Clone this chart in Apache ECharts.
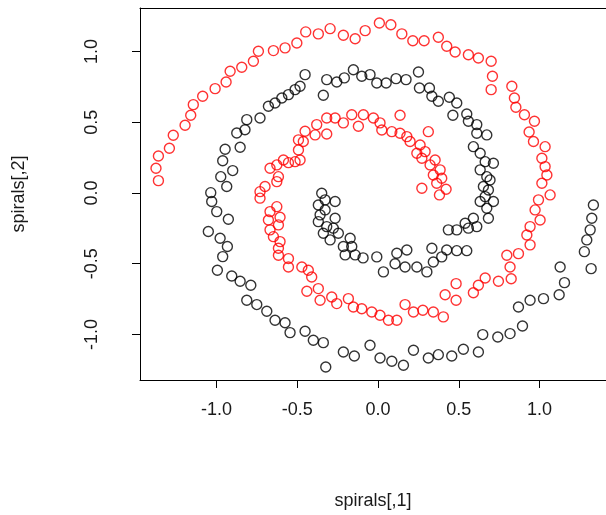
<!DOCTYPE html>
<html>
<head>
<meta charset="utf-8">
<script src="https://cdn.jsdelivr.net/npm/echarts@6/dist/echarts.min.js"></script>
<style>
  html, body { margin: 0; padding: 0; background: #fff; }
  #chart { width: 606px; height: 515px; }
</style>
</head>
<body>
<div id="chart"></div>
<script>
// values
const blackX = [
  -0.452, -0.483, -0.514, -0.555, -0.596, -0.638, -0.679, -0.731, -0.824, -0.875,
  -0.813, -0.854, -0.947, -0.962, -0.900, -0.974, -0.937, -1.036, -1.030, -0.999,
  -0.927, -1.051, -0.978, -0.933, -0.962, -0.995, -0.906, -0.854, -0.788, -0.813,
  -0.751, -0.689, -0.638, -0.576, -0.545, -0.452, -0.401, -0.339, -0.324, -0.215,
  -0.147, -0.050, 0.012, 0.085, 0.157, 0.219, 0.311, 0.373, 0.456, 0.528,
  0.621, 0.648, 0.741, 0.817, 0.894, 0.869, 0.941, 1.024, 1.121, 1.154,
  1.127, 1.319, 1.277, 1.292, 1.313, 1.323, 1.333, -0.318, -0.339, -0.256,
  -0.209, -0.153, -0.101, -0.050, -0.008, 0.050, 0.111, 0.173, 0.250, 0.256,
  0.318, 0.333, 0.373, 0.441, 0.487, 0.463, 0.549, 0.559, 0.611, 0.611,
  0.673, 0.590, 0.632, 0.663, 0.714, 0.632, 0.673, 0.693, 0.652, 0.683,
  0.663, 0.714, 0.632, 0.673, 0.683, 0.590, 0.539, 0.611, 0.559, 0.487,
  0.435, 0.549, 0.487, 0.425, 0.333, 0.394, 0.342, 0.302, 0.240, 0.167,
  0.105, 0.033, 0.178, 0.116, -0.008, -0.093, -0.142, -0.204, -0.349, -0.328,
  -0.266, -0.370, -0.328, -0.359, -0.266, -0.370, -0.318, -0.277, -0.339, -0.246,
  -0.297, -0.173, -0.215, -0.163
]
const blackY = [
  0.836, 0.754, 0.730, 0.695, 0.671, 0.636, 0.613, 0.530, 0.447, 0.424,
  0.518, 0.323, 0.309, 0.228, 0.158, 0.115, 0.045, 0.002, -0.061, -0.132,
  -0.186, -0.273, -0.320, -0.379, -0.450, -0.546, -0.587, -0.624, -0.652, -0.758,
  -0.789, -0.836, -0.900, -0.917, -0.987, -0.977, -1.041, -1.058, -1.230, -1.124,
  -1.152, -1.076, -1.166, -1.189, -1.218, -1.112, -1.166, -1.143, -1.152, -1.105,
  -1.124, -1.001, -1.018, -0.994, -0.940, -0.806, -0.758, -0.747, -0.719, -0.634,
  -0.523, -0.535, -0.415, -0.332, -0.261, -0.179, -0.085, 0.801, 0.690, 0.784,
  0.813, 0.871, 0.825, 0.836, 0.777, 0.777, 0.808, 0.801, 0.855, 0.742,
  0.742, 0.683, 0.648, 0.676, 0.636, 0.549, 0.558, 0.507, 0.483, 0.422,
  0.410, 0.327, 0.281, 0.221, 0.210, 0.163, 0.115, 0.092, 0.045, 0.021,
  -0.026, -0.061, -0.061, -0.108, -0.179, -0.179, -0.214, -0.238, -0.249, -0.261,
  -0.261, -0.408, -0.408, -0.403, -0.391, -0.452, -0.488, -0.558, -0.523, -0.523,
  -0.500, -0.558, -0.403, -0.426, -0.452, -0.459, -0.438, -0.438, -0.002, -0.049,
  -0.061, -0.085, -0.120, -0.155, -0.179, -0.203, -0.238, -0.249, -0.285, -0.285,
  -0.332, -0.320, -0.379, -0.379
]
const redX = [
  -1.360, -1.375, -1.360, -1.292, -1.268, -1.195, -1.160, -1.144, -1.086, -1.009,
  -0.941, -0.916, -0.844, -0.772, -0.741, -0.648, -0.576, -0.503, -0.448, -0.370,
  -0.297, -0.215, -0.142, -0.080, 0.008, 0.079, 0.147, 0.215, 0.285, 0.373,
  0.425, 0.477, 0.559, 0.621, 0.700, 0.708, 0.700, 0.828, 0.844, 0.853,
  0.906, 0.968, 0.935, 0.962, 1.034, 1.014, 1.034, 1.045, 1.014, 1.065,
  0.993, 0.972, 1.003, 0.941, 0.921, 0.941, 0.869, 0.797, 0.817, 0.824,
  0.745, 0.663, 0.621, 0.590, 0.483, 0.415, 0.483, 0.404, 0.342, 0.277,
  0.219, 0.167, 0.116, 0.064, 0.012, -0.039, -0.101, -0.153, -0.184, -0.256,
  -0.287, -0.359, -0.370, -0.441, -0.411, -0.432, -0.472, -0.555, -0.555, -0.617,
  -0.617, -0.607, -0.648, -0.669, -0.617, -0.607, -0.679, -0.669, -0.627, -0.731,
  -0.731, -0.700, -0.627, -0.617, -0.669, -0.627, -0.586, -0.555, -0.514, -0.483,
  -0.493, -0.493, -0.463, -0.452, -0.390, -0.380, -0.318, -0.318, -0.266, -0.215,
  -0.163, -0.122, -0.091, -0.029, 0.012, 0.136, 0.023, 0.085, 0.136, 0.178,
  0.198, 0.311, 0.260, 0.240, 0.291, 0.271, 0.353, 0.322, 0.384, 0.342,
  0.394, 0.363, 0.421, 0.380, 0.271
]
const redY = [
  0.087, 0.175, 0.261, 0.316, 0.408, 0.478, 0.549, 0.624, 0.683, 0.737,
  0.784, 0.860, 0.888, 0.931, 1.001, 1.006, 1.025, 1.060, 1.138, 1.124,
  1.161, 1.114, 1.090, 1.147, 1.201, 1.189, 1.124, 1.076, 1.076, 1.100,
  1.037, 0.996, 0.977, 0.954, 0.931, 0.825, 0.730, 0.754, 0.671, 0.606,
  0.553, 0.507, 0.431, 0.363, 0.327, 0.245, 0.186, 0.127, 0.069, -0.014,
  -0.049, -0.120, -0.191, -0.238, -0.297, -0.367, -0.429, -0.440, -0.523, -0.606,
  -0.624, -0.601, -0.652, -0.705, -0.641, -0.719, -0.758, -0.876, -0.841, -0.829,
  -0.841, -0.789, -0.900, -0.900, -0.864, -0.841, -0.818, -0.806, -0.747, -0.782,
  -0.735, -0.758, -0.676, -0.695, -0.594, -0.546, -0.523, -0.523, -0.464, -0.440,
  -0.391, -0.344, -0.309, -0.261, -0.226, -0.172, -0.191, -0.132, -0.097, -0.037,
  0.009, 0.045, 0.080, 0.115, 0.175, 0.198, 0.233, 0.214, 0.221, 0.233,
  0.304, 0.375, 0.363, 0.436, 0.410, 0.483, 0.417, 0.530, 0.530, 0.495,
  0.553, 0.471, 0.553, 0.530, 0.495, 0.549, 0.445, 0.433, 0.422, 0.398,
  0.363, 0.433, 0.339, 0.281, 0.292, 0.245, 0.233, 0.198, 0.163, 0.127,
  0.104, 0.069, 0.026, -0.014, 0.033
]
const xTicks = [-1, -0.5, 0, 0.5, 1]
const yTicks = [-1, -0.5, 0, 0.5, 1]

const font = 'Liberation Sans, Arial, sans-serif'
const zip = (xs, ys) => xs.map((x, i) => [x, ys[i]])

const chart = echarts.init(document.getElementById('chart'))

const circles = (data, color) => ({
  type: 'scatter',
  data: data,
  symbol: 'circle',
  symbolSize: 10,
  itemStyle: {
    color: 'rgba(0,0,0,0)',
    borderColor: color,
    borderWidth: 1.4
  },
  emphasis: { disabled: true },
  animation: false
})

const lineStyle = { color: '#000', width: 1 }

const tickStyle = {
  show: true,
  inside: false,
  length: 8,
  lineStyle: lineStyle
}

const labelStyle = {
  formatter: v => v.toFixed(1),
  fontFamily: font,
  fontSize: 18,
  color: '#1a1a1a'
}

// the plot is cut off on the right, so the box has no right edge
const xMin = -1.474
const xMax = 1.411

chart.setOption({
  backgroundColor: '#fff',
  grid: { left: 140, top: 8, right: 0, bottom: 135 },
  xAxis: [
    {
      type: 'value',
      min: xMin,
      max: xMax,
      name: 'spirals[,1]',
      nameLocation: 'middle',
      nameGap: 112,
      nameTextStyle: { fontFamily: font, fontSize: 18, color: '#1a1a1a' },
      axisLine: { show: true, onZero: false, lineStyle: lineStyle },
      splitLine: { show: false },
      axisTick: Object.assign({ customValues: xTicks }, tickStyle),
      axisLabel: Object.assign({ customValues: xTicks, margin: 21 }, labelStyle)
    },
    {
      // top edge of the box
      type: 'value',
      position: 'top',
      min: xMin,
      max: xMax,
      axisLine: { show: true, onZero: false, lineStyle: lineStyle },
      axisTick: { show: false },
      axisLabel: { show: false },
      splitLine: { show: false }
    }
  ],
  yAxis: {
    type: 'value',
    min: -1.322,
    max: 1.307,
    name: 'spirals[,2]',
    nameLocation: 'middle',
    nameRotate: 90,
    nameGap: 112,
    nameTextStyle: { fontFamily: font, fontSize: 18, color: '#1a1a1a' },
    axisLine: { show: true, onZero: false, lineStyle: lineStyle },
    splitLine: { show: false },
    axisTick: Object.assign({ customValues: yTicks }, tickStyle),
    axisLabel: Object.assign({ customValues: yTicks, rotate: 90, margin: 39 }, labelStyle)
  },
  series: [
    circles(zip(blackX, blackY), '#000'),
    circles(zip(redX, redY), '#ff0000')
  ]
})
</script>
</body>
</html>
